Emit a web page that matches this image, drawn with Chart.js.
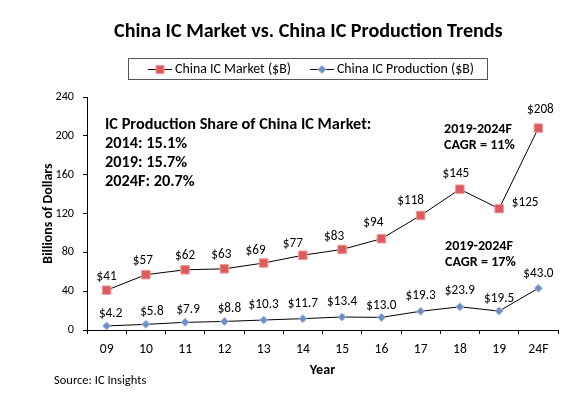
<!DOCTYPE html>
<html>
<head>
<meta charset="utf-8">
<script src="https://cdn.jsdelivr.net/npm/chart.js@4.4.1/dist/chart.umd.min.js"></script>
<style>
html,body{margin:0;padding:0;background:#fff;overflow:hidden}
#wrap{width:587px;height:393px;position:relative}
</style>
</head>
<body>
<div id="wrap"><canvas id="c" width="587" height="393"></canvas></div>
<script>
// ---- data ----
const years = ['09','10','11','12','13','14','15','16','17','18','19','24F'];
const marketValues = [41, 57, 62, 63, 69, 77, 83, 94, 118, 145, 125, 208];
const productionValues = [4.2, 5.8, 7.9, 8.8, 10.3, 11.7, 13.4, 13.0, 19.3, 23.9, 19.5, 43.0];
const yTickValues = [0, 40, 80, 120, 160, 200, 240];
const marketLabels = marketValues.map(v => '$' + v);
const productionLabels = productionValues.map(v => '$' + v.toFixed(1));
const seriesNames = ['China IC Market ($B)', 'China IC Production ($B)'];
const titleText = 'China IC Market vs. China IC Production Trends';
const shareNotes = ['IC Production Share of China IC Market:', '2014: 15.1%', '2019: 15.7%', '2024F: 20.7%'];
const cagrMarket = ['2019-2024F', 'CAGR = 11%'];
const cagrProduction = ['2019-2024F', 'CAGR = 17%'];
const sourceText = 'Source: IC Insights';

// ---- style ----
const FONT = 'Carlito, Lato, "Open Sans", sans-serif';
const marketFill = '#df5a5c';
const marketEdge = '#ee9a9a';
const prodFill = '#6d8ec8';
const prodEdge = '#9db4dc';

// font size fitted to a target text width (px)
const mctx = document.createElement('canvas').getContext('2d');
function fit(text, weight, width) {
  mctx.font = weight + ' 100px ' + FONT;
  return Math.round(1000 * width / mctx.measureText(text).width) / 10;
}
const titleSize = fit(titleText, 'bold', 388);
const legendSize = fit(seriesNames[0], 'normal', 116);
const noteSize = fit(shareNotes[0], 'bold', 267);
const cagrSize = fit('2019-2024F', 'bold', 68);
const labelSize = fit('$10.3', 'normal', 30);
const yTickSize = fit('240', 'normal', 18.5);
const xTickSize = fit('24F', 'normal', 20);
const yTitleSize = fit('Billions of Dollars', 'bold', 100);
const xTitleSize = fit('Year', 'bold', 25.5);
const sourceSize = fit(sourceText, 'normal', 92);

// label offsets (pixels) relative to each point
const marketShift = [[0,-14],[-3,-14],[0,-14],[-3,-14],[-8,-12],[-10,-12],[-8,-13],[-8,-16],[-10,-15],[-4,-16],[26,-6],[2,-18]];
const prodShift = [[4,-12],[6,-13],[3,-13],[5,-13],[0,-15],[0,-15],[0,-15],[0,-12],[0,-16],[0,-16],[0,-12],[0,-15]];

const decor = {
  id: 'decor',
  afterDraw(chart) {
    const ctx = chart.ctx;
    ctx.save();
    ctx.fillStyle = '#000';
    // title
    ctx.font = 'bold ' + titleSize + 'px ' + FONT;
    ctx.textAlign = 'left';
    ctx.textBaseline = 'alphabetic';
    ctx.fillText(titleText, 114, 37);

    // legend
    ctx.strokeStyle = '#555';
    ctx.lineWidth = 1;
    ctx.strokeRect(128.5, 58.5, 359, 21);
    ctx.font = legendSize + 'px ' + FONT;
    ctx.textAlign = 'left';
    ctx.textBaseline = 'middle';
    const ly = 69;
    let lx = 148;
    chart.data.datasets.forEach((ds, i) => {
      ctx.strokeStyle = '#000';
      ctx.lineWidth = 1;
      ctx.beginPath(); ctx.moveTo(lx, ly + 0.5); ctx.lineTo(lx + 24, ly + 0.5); ctx.stroke();
      const cx = lx + 12;
      ctx.fillStyle = ds.pointBackgroundColor;
      ctx.strokeStyle = ds.pointBorderColor;
      ctx.beginPath();
      if (i === 0) { ctx.rect(cx - 4, ly - 3.5, 8, 8); }
      else { ctx.moveTo(cx, ly - 3.5); ctx.lineTo(cx + 4, ly + 0.5); ctx.lineTo(cx, ly + 4.5); ctx.lineTo(cx - 4, ly + 0.5); ctx.closePath(); }
      ctx.fill(); ctx.stroke();
      ctx.fillStyle = '#000';
      ctx.fillText(ds.label, lx + 27, ly + 1);
      lx = lx + 27 + ctx.measureText(ds.label).width + 19;
    });

    // notes
    ctx.font = 'bold ' + noteSize + 'px ' + FONT;
    ctx.textBaseline = 'alphabetic';
    ctx.fillText(shareNotes[0], 105, 129);
    ctx.fillText(shareNotes[1], 105, 148);
    ctx.fillText(shareNotes[2], 105, 167);
    ctx.fillText(shareNotes[3], 105, 186);
    ctx.font = 'bold ' + cagrSize + 'px ' + FONT;
    ctx.fillText(cagrMarket[0], 444, 133);
    ctx.fillText(cagrMarket[1], 444, 149);
    ctx.fillText(cagrProduction[0], 445, 250);
    ctx.fillText(cagrProduction[1], 445, 266);

    // source
    ctx.font = sourceSize + 'px ' + FONT;
    ctx.fillText(sourceText, 54, 384);

    // data labels
    ctx.font = labelSize + 'px ' + FONT;
    ctx.textAlign = 'center';
    ctx.textBaseline = 'middle';
    const sets = [[marketLabels, marketShift], [productionLabels, prodShift]];
    sets.forEach(([labels, shift], di) => {
      const meta = chart.getDatasetMeta(di);
      meta.data.forEach((pt, j) => {
        ctx.fillText(labels[j], pt.x + shift[j][0], pt.y + shift[j][1]);
      });
    });
    ctx.restore();
  }
};

new Chart(document.getElementById('c'), {
  type: 'line',
  data: {
    labels: years,
    datasets: [
      {
        label: seriesNames[0], data: marketValues,
        borderColor: '#000', borderWidth: 1, tension: 0,
        pointStyle: 'rect', pointRadius: 6, pointHoverRadius: 6,
        pointBackgroundColor: marketFill, pointBorderColor: marketEdge, pointBorderWidth: 1
      },
      {
        label: seriesNames[1], data: productionValues,
        borderColor: '#000', borderWidth: 1, tension: 0,
        pointStyle: 'rectRot', pointRadius: 4, pointHoverRadius: 4,
        pointBackgroundColor: prodFill, pointBorderColor: prodEdge, pointBorderWidth: 1
      }
    ]
  },
  options: {
    responsive: false,
    animation: false,
    devicePixelRatio: 1,
    layout: { padding: { top: 97, bottom: 10, left: 0, right: 29 } },
    plugins: { legend: { display: false }, title: { display: false }, tooltip: { enabled: false } },
    scales: {
      x: {
        type: 'category', offset: true,
        grid: { display: true, drawOnChartArea: false, drawTicks: true, tickLength: 4, offset: true, color: '#000' },
        border: { display: true, color: '#000', width: 1 },
        ticks: { color: '#000', font: { family: FONT, size: xTickSize }, padding: 7, maxRotation: 0, autoSkip: false },
        title: { display: true, text: 'Year', color: '#000', font: { family: FONT, size: xTitleSize, weight: 'bold' }, padding: { top: 0, bottom: 4 } },
        afterFit(s) { s.height = 53; }
      },
      y: {
        min: 0, max: 240,
        afterBuildTicks(s) { s.ticks = yTickValues.map(v => ({ value: v })); },
        grid: { display: true, drawOnChartArea: false, drawTicks: true, tickLength: 4, color: '#000' },
        border: { display: true, color: '#000', width: 1 },
        ticks: { color: '#000', font: { family: FONT, size: yTickSize }, padding: 9 },
        title: { display: true, text: 'Billions of Dollars', color: '#000', font: { family: FONT, size: yTitleSize, weight: 'bold' }, padding: { top: 40, bottom: 0 } },
        afterFit(s) { s.width = 87; }
      }
    }
  },
  plugins: [decor]
});
</script>
</body>
</html>
